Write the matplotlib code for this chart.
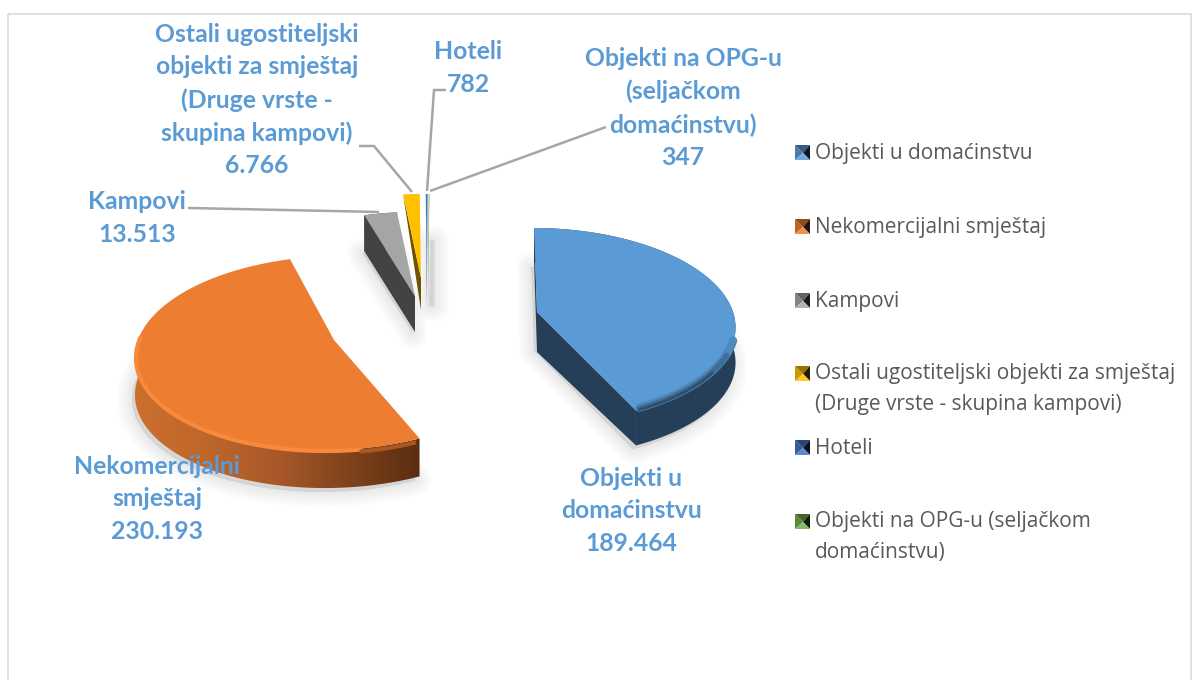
import numpy as np
import matplotlib
matplotlib.use("Agg")
import matplotlib.pyplot as plt
from matplotlib.colors import LinearSegmentedColormap, to_rgb
from matplotlib.patches import Polygon, Rectangle

# ---- data ----
categories = ["Objekti u domaćinstvu", "Nekomercijalni smještaj", "Kampovi",
              "Ostali ugostiteljski objekti za smještaj (Druge vrste - skupina kampovi)",
              "Hoteli", "Objekti na OPG-u (seljačkom domaćinstvu)"]
values = [189464, 230193, 13513, 6766, 782, 347]
label_names = ["Objekti u\ndomaćinstvu", "Nekomercijalni\nsmještaj", "Kampovi",
               "Ostali ugostiteljski\nobjekti za smještaj\n(Druge vrste -\nskupina kampovi)",
               "Hoteli", "Objekti na OPG-u\n(seljačkom\ndomaćinstvu)"]
legend_names = ["Objekti u domaćinstvu", "Nekomercijalni smještaj", "Kampovi",
                "Ostali ugostiteljski objekti za smještaj\n(Druge vrste - skupina kampovi)",
                "Hoteli", "Objekti na OPG-u (seljačkom\ndomaćinstvu)"]

# ---- style / layout ----
top_colors = ["#5b9bd5", "#ed7d31", "#a5a5a5", "#ffc000", "#4472c4", "#70ad47"]
wall_colors = ["#243f57", "#8a4a1e", "#434343", "#6e5200", "#263f70", "#3c6127"]
apexes = [(537, 312), (334, 340), (415, 296), (421, 278), (427, 278), (428, 278)]
apex_thick = [40, 40, 36, 32, 30, 30]
rim_thick = [35, 38, 36, 0, 0, 0]
skews = [-5, 8, 0, 0, 0, 0]
A, B, K = 196.0, 95.3, 0.134
START = 0.5
label_xy = [(631, 511), (157, 499), (137, 218), (257, 100), (468, 68), (683, 108)]
legend_y = [152, 226, 300, 373, 447, 521]
LABEL = "#5b9bd5"
LEAD = "#a6a6a6"

fig = plt.figure(figsize=(11.92, 6.8), dpi=100, facecolor="white")
ax = fig.add_axes([0, 0, 1, 1])
ax.set_xlim(0, 1192)
ax.set_ylim(680, 0)
ax.axis("off")
ax.set_autoscale_on(False)

ax.add_patch(Rectangle((8, 14), 1183, 700, fc="none", ec="#d9d9d9", lw=1.2, zorder=0))

def project(apex, deg, skew=0):
    t = np.radians(deg)
    u, v = np.sin(t), np.cos(t)
    w = 1 + K * v
    return apex[0] + (A * u + skew * v) / w, apex[1] - B * v / w

def arc(i, a0, a1, n=160):
    d = np.linspace(a0, a1, n)
    x, y = project(apexes[i], d, skews[i])
    return np.column_stack([x, y])

spans = np.array(values, float) / sum(values) * 360
ends = START + np.cumsum(spans)
starts = ends - spans

def soft_shadow(pts):
    for lw in np.arange(22, 0, -2):
        ax.add_patch(Polygon(pts, closed=True, fc="k", ec="k", lw=lw, alpha=.0075,
                             zorder=1, joinstyle="round"))

# soft shadows
for i in range(3):
    p = arc(i, starts[i], ends[i])
    base = np.vstack([[apexes[i]], p])
    off = np.array([-3, rim_thick[i] + 4]) if i != 2 else np.array([-2, rim_thick[i] + 2])
    soft_shadow(base + off)
soft_shadow([(430, 240), (434, 240), (434, 306), (429, 306)])

orange_cmap = LinearSegmentedColormap.from_list(
    "side", ["#cb6f2c", "#bf672a", "#a9582a", "#7f421c", "#5a2d10"])

for i in range(len(values)):
    ap = apexes[i]
    top = arc(i, starts[i], ends[i])
    t = rim_thick[i]
    bottom = (ap[0], ap[1] + apex_thick[i])
    z = 3 + i * 0.1
    # rim
    if t:
        rim = np.vstack([top, (top + [0, t])[::-1]])
        if i == 1:
            pg = Polygon(rim, fc="none", ec="none", zorder=z)
            ax.add_patch(pg)
            im = ax.imshow(np.linspace(0, 1, 256)[None, :], cmap=orange_cmap, aspect="auto",
                           extent=(133, 422, 500, 340), zorder=z, interpolation="bilinear")
            im.set_clip_path(pg)
        else:
            ax.add_patch(Polygon(rim, fc=wall_colors[i], ec="none", zorder=z))
    # cut walls
    if i == 0:
        ax.add_patch(Polygon([ap, top[-1], top[-1] + [0, t], bottom], fc=wall_colors[0], ec="none", zorder=z))
    if i == 0 or i >= 2:
        ax.add_patch(Polygon([ap, top[0], top[0] + [0, t], bottom], fc=wall_colors[i], ec="none", zorder=z))
    # top face
    ax.add_patch(Polygon(np.vstack([[ap], top]), closed=True, fc=top_colors[i], ec="none", zorder=z + .01))

# bevels: lighter inside, darker toward the rim
for a0, lw, c in [(108, 6, "#4f8abf"), (116, 4, "#3f6d96"), (126, 2, "#2e4f6d")]:
    e = arc(0, a0, ends[0] - 1)
    ax.plot(e[:, 0], e[:, 1] - lw / 2 + 1, color=c, lw=lw, zorder=3.02, solid_capstyle="round")
ora = arc(1, starts[1] + 16, 272)
ax.plot(ora[:, 0] + 1, ora[:, 1] + 1, color="#f98a3c", lw=3, zorder=3.12, solid_capstyle="round")
ora2 = arc(1, starts[1] + 1, starts[1] + 16)
ax.plot(ora2[:, 0], ora2[:, 1] + 3, color="#a85822", lw=3, zorder=3.12, solid_capstyle="butt")

# leader lines
leaders = [[(188, 208), (379, 212)],
           [(359, 146), (374, 146), (412, 192)],
           [(446, 90), (434, 90), (427, 191)],
           [(606, 127), (430, 191)]]
for seg in leaders:
    s = np.array(seg)
    ax.plot(s[:, 0], s[:, 1], color=LEAD, lw=1.8, zorder=4, solid_capstyle="butt")

# data labels
for name, v, (x, y) in zip(label_names, values, label_xy):
    txt = f"{name}\n{v:,}".replace(",", ".")
    ax.text(x, y, txt, ha="center", va="center", family="Lato", weight="bold",
            fontsize=17.8, color=LABEL, linespacing=1.5, zorder=6)

# legend
def shade(c, f):
    r = np.array(to_rgb(c))
    return tuple(r * f) if f <= 1 else tuple(r + (1 - r) * (f - 1))

for c, name, y in zip(top_colors, legend_names, legend_y):
    x0, x1, y0, y1 = 795, 810, y - 7, y + 8
    xc, yc = 803, y + 1
    ax.add_patch(Polygon([(x0, y0), (xc, yc), (x0, y1)], fc=shade(c, .8), ec="none", zorder=5))
    ax.add_patch(Polygon([(x0, y0), (x1, y0), (xc, yc)], fc=shade(c, .6), ec="none", zorder=5))
    ax.add_patch(Polygon([(x1, y0), (x1, y1), (xc, yc)], fc=shade(c, .15), ec="none", zorder=5))
    ax.add_patch(Polygon([(x0, y1), (x1, y1), (xc, yc)], fc=shade(c, 1.15), ec="none", zorder=5))
    ax.text(815, y - 9.5, name, ha="left", va="top", family="Open Sans", fontsize=15,
            color="#595959", linespacing=1.57, zorder=6)

fig.savefig("out.png", dpi=100, facecolor="white")
